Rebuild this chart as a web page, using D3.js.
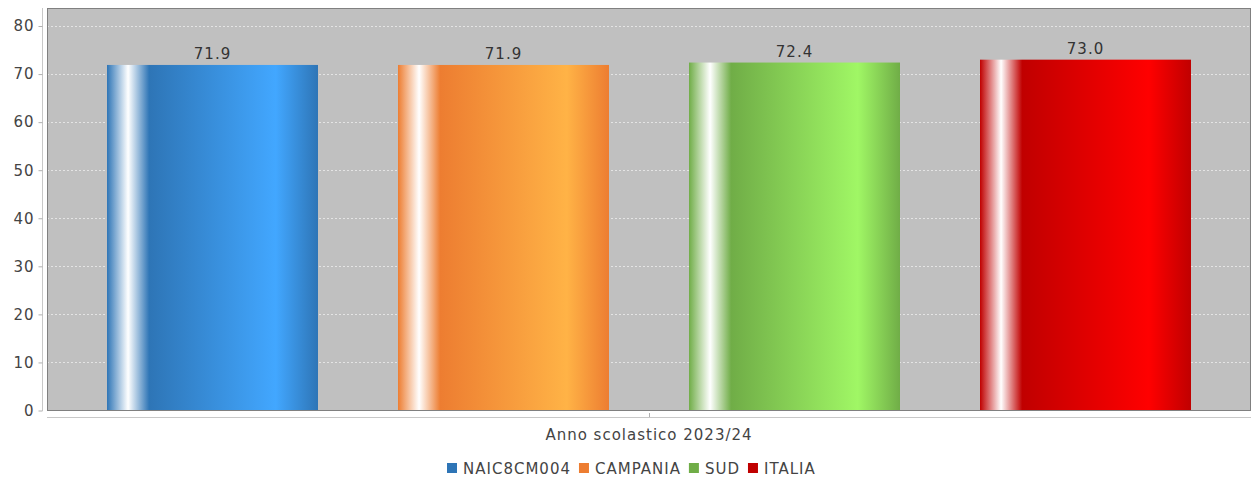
<!DOCTYPE html>
<html>
<head>
<meta charset="utf-8">
<script src="https://cdn.jsdelivr.net/npm/d3@7"></script>
<style>
  body { margin: 0; background: #fff; }
  text { font-family: "DejaVu Sans", sans-serif; letter-spacing: 1px; }
</style>
</head>
<body>
<div id="chart"></div>
<script>
// data
const categories = ["NAIC8CM004", "CAMPANIA", "SUD", "ITALIA"];
const values = [71.9, 71.9, 72.4, 73.0];
const baseColors = ["#2e75b6", "#ed7d31", "#70ad47", "#c00000"];
const yTicks = [0, 10, 20, 30, 40, 50, 60, 70, 80];
const xLabel = "Anno scolastico 2023/24";

const W = 1253, H = 482;
const plot = {left: 47, right: 1251, top: 8, bottom: 411};

const svg = d3.select("#chart").append("svg")
  .attr("width", W)
  .attr("height", H);

// brighter like java Color.brighter()
function brighter(c) {
  const rgb = d3.rgb(c);
  return d3.rgb(Math.min(255, rgb.r / 0.7), Math.min(255, rgb.g / 0.7), Math.min(255, rgb.b / 0.7)).formatHex();
}

const defs = svg.append("defs");
baseColors.forEach((c, i) => {
  const g = defs.append("linearGradient")
    .attr("id", "grad" + i)
    .attr("x1", "0%").attr("x2", "100%")
    .attr("y1", "0%").attr("y2", "0%");
  const stops = [[0, c], [0.10, "#ffffff"], [0.20, c], [0.80, brighter(c)], [1, c]];
  stops.forEach(s => g.append("stop").attr("offset", s[0]).attr("stop-color", s[1]));
});

const x = d3.scaleBand()
  .domain(categories)
  .range([plot.left, plot.right])
  .paddingInner(80 / 291)
  .paddingOuter(60 / 291);

const y = d3.scaleLinear()
  .domain([0, 83.75])
  .range([plot.bottom - 0.5, plot.top]);

// plot background
svg.append("rect")
  .attr("x", plot.left)
  .attr("y", plot.top)
  .attr("width", plot.right - plot.left)
  .attr("height", plot.bottom - plot.top)
  .attr("fill", "#c0c0c0");

// gridlines
svg.append("g")
  .selectAll("line")
  .data(yTicks.filter(d => d > 0))
  .enter()
  .append("line")
  .attr("x1", plot.left)
  .attr("x2", plot.right)
  .attr("y1", d => Math.round(y(d)) + 0.5)
  .attr("y2", d => Math.round(y(d)) + 0.5)
  .attr("stroke", "#e4e4e4")
  .attr("stroke-width", 1)
  .attr("stroke-dasharray", "2,2");

// bars
svg.append("g")
  .selectAll("rect")
  .data(values)
  .enter()
  .append("rect")
  .attr("x", (d, i) => x(categories[i]))
  .attr("y", d => y(d))
  .attr("width", x.bandwidth())
  .attr("height", d => plot.bottom - y(d))
  .attr("fill", (d, i) => "url(#grad" + i + ")");

// value labels
svg.append("g")
  .selectAll("text")
  .data(values)
  .enter()
  .append("text")
  .attr("x", (d, i) => x(categories[i]) + x.bandwidth() / 2)
  .attr("y", d => y(d) - 6)
  .attr("text-anchor", "middle")
  .attr("font-size", 15)
  .attr("fill", "#333")
  .text(d => d.toFixed(1));

// plot border
svg.append("rect")
  .attr("x", plot.left + 0.5)
  .attr("y", plot.top + 0.5)
  .attr("width", plot.right - plot.left - 1)
  .attr("height", plot.bottom - plot.top - 1)
  .attr("fill", "none")
  .attr("stroke", "#808080");

// y axis
const yAxis = svg.append("g")
  .attr("transform", "translate(42.5,0)")
  .call(d3.axisLeft(y).tickValues(yTicks).tickSize(4).tickPadding(4));
yAxis.select(".domain").attr("stroke", "#c8c8c8").attr("d", `M0,${plot.top}V${plot.bottom}`);
yAxis.selectAll(".tick line").attr("stroke", "#b0b0b0");
yAxis.selectAll(".tick text")
  .attr("font-size", 15)
  .attr("font-family", "DejaVu Sans, sans-serif")
  .attr("fill", "#444");

// x axis line and center tick
const xAxis = svg.append("g");
xAxis.append("line")
  .attr("x1", plot.left).attr("x2", plot.right)
  .attr("y1", 417.5).attr("y2", 417.5)
  .attr("stroke", "#c8c8c8");
xAxis.append("line")
  .attr("x1", (plot.left + plot.right) / 2 + 0.5).attr("x2", (plot.left + plot.right) / 2 + 0.5)
  .attr("y1", 413).attr("y2", 417)
  .attr("stroke", "#b0b0b0");
xAxis.append("text")
  .attr("x", (plot.left + plot.right) / 2)
  .attr("y", 440)
  .attr("text-anchor", "middle")
  .attr("font-size", 15)
  .attr("fill", "#444")
  .text(xLabel);

// legend
const legend = svg.append("g");
let lx = 447;
categories.forEach((c, i) => {
  legend.append("rect")
    .attr("x", lx)
    .attr("y", 463)
    .attr("width", 10)
    .attr("height", 10)
    .attr("fill", baseColors[i]);
  const t = legend.append("text")
    .attr("x", lx + 16)
    .attr("y", 474)
    .attr("font-size", 15)
    .attr("fill", "#444")
    .text(c);
  lx += 16 + t.node().getComputedTextLength() + 8;
});
</script>
</body>
</html>
